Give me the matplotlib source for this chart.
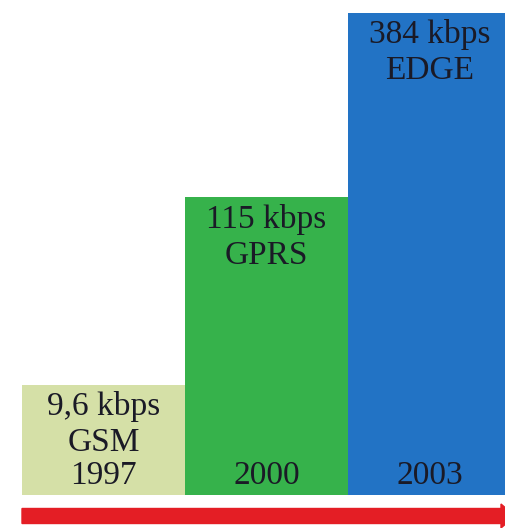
import numpy as np
import matplotlib.pyplot as plt
from matplotlib.patches import FancyArrow

# mobile data generations
names = ["GSM", "GPRS", "EDGE"]
speeds = [9.6, 115, 384]  # kbps
speed_labels = ["9,6 kbps", "115 kbps", "384 kbps"]
years = ["1997", "2000", "2003"]
colors = ["#d5e0a7", "#36b24b", "#2273c5"]

W, H = 505, 528
fig = plt.figure(figsize=(W / 100, H / 100), dpi=100)
fig.patch.set_facecolor("white")

# axes bottom sits on the bar baseline, top at the figure edge
base_px = 33
ax = fig.add_axes([0, base_px / H, 1, 1 - base_px / H])

# power scale so the steps stay readable
fwd = lambda v: np.power(np.clip(v, 0, None), 0.4)
inv = lambda v: np.power(np.clip(v, 0, None), 2.5)
ax.set_yscale("function", functions=(fwd, inv))

x = np.arange(len(names))
ax.bar(x, speeds, width=1.0, color=colors, edgecolor="none")

bar_px = 163
ax.set_xlim(-0.5 - 22 / bar_px, -0.5 + (W - 22) / bar_px)
px_per_unit = 44.6
ax.set_ylim(0, ((H - base_px) / px_per_unit) ** 2.5)

font = dict(family="Liberation Serif", fontsize=24, color="#1a1a26",
            ha="center", va="center", textcoords="offset pixels")
for i in range(len(names)):
    ax.annotate(speed_labels[i], (x[i], speeds[i]), xytext=(0, -22), **font)
    ax.annotate(names[i], (x[i], speeds[i]), xytext=(0, -58), **font)
    ax.annotate(years[i], (x[i], 0), xytext=(0, 19), **font)

ax.axis("off")

# timeline arrow along the bottom
y_arr = 1 - 516 / H
fig.patches.append(FancyArrow(22 / W, y_arr, (515 - 22) / W, 0,
                              width=15 / H, head_width=24 / H,
                              head_length=14 / W, length_includes_head=True,
                              color="#e41e25", transform=fig.transFigure,
                              figure=fig))

fig.savefig("out.png", dpi=100)
